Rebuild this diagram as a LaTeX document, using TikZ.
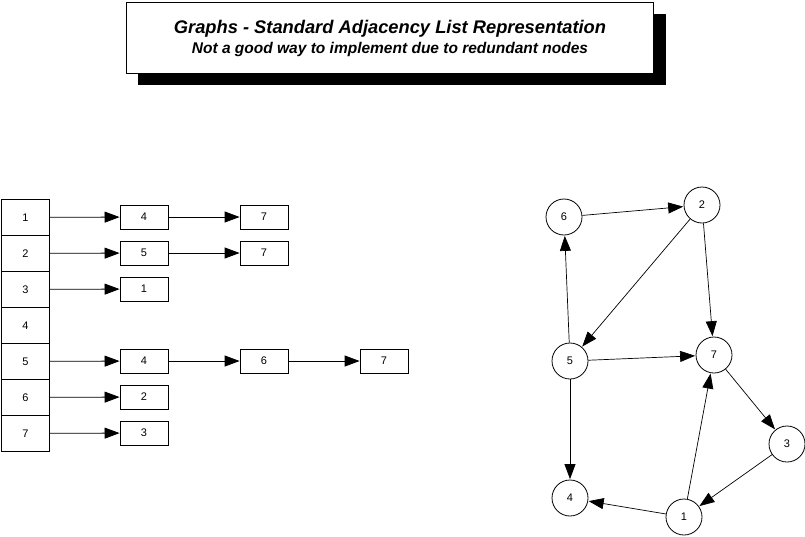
\documentclass[tikz,border=0pt]{standalone}
\usepackage{fontspec}
\setmainfont{Liberation Sans}
\usetikzlibrary{arrows.meta}
\begin{document}
\begin{tikzpicture}[x=1pt,y=-1pt,
  every node/.style={font=\fontsize{11}{13}\selectfont, inner sep=0pt},
  cell/.style={draw, line width=0.8pt, minimum width=48pt, minimum height=36pt, anchor=north west},
  item/.style={draw, line width=0.8pt, minimum width=48pt, minimum height=24pt},
  vert/.style={draw, circle, line width=0.8pt, minimum size=36pt},
  link/.style={line width=0.8pt, -{Triangle[length=15pt,width=11pt]}},
  edge/.style={line width=0.7pt, -{Triangle[length=15pt,width=11pt]}, shorten >=0.5pt}]
\useasboundingbox (0,0) rectangle (805,536);
% title
\fill (138,14) rectangle (666,85);
\node[draw, fill=white, line width=0.8pt, minimum width=527pt, minimum height=71pt, anchor=north west] (title) at (126,2) {};
\node[anchor=base] (t1) at (390,33.5) {\fontsize{18.3}{20}\selectfont\bfseries\itshape Graphs - Standard Adjacency List Representation};
\node[anchor=base] (t2) at (390,53.5) {\fontsize{15.5}{17}\selectfont\bfseries\itshape Not a good way to implement due to redundant nodes};
% array
\foreach \i in {1,...,7} {
  \node[cell] (r\i) at (1,{199+36*(\i-1)}) {\i};
}
% list items
\node[item] (a14) at (144,217) {4};
\node[item] (a17) at (264,217) {7};
\node[item] (a25) at (144,253) {5};
\node[item] (a27) at (264,253) {7};
\node[item] (a31) at (144,289) {1};
\node[item] (a54) at (144,361) {4};
\node[item] (a56) at (264,361) {6};
\node[item] (a57) at (384,361) {7};
\node[item] (a62) at (144,397) {2};
\node[item] (a73) at (144,433) {3};
\draw[link] (r1) -- (a14);
\draw[link] (a14) -- (a17);
\draw[link] (r2) -- (a25);
\draw[link] (a25) -- (a27);
\draw[link] (r3) -- (a31);
\draw[link] (r5) -- (a54);
\draw[link] (a54) -- (a56);
\draw[link] (a56) -- (a57);
\draw[link] (r6) -- (a62);
\draw[link] (r7) -- (a73);
% graph
\node[vert] (g6) at (564,217) {6};
\node[vert] (g2) at (702,205) {2};
\node[vert] (g5) at (570,361) {5};
\node[vert] (g7) at (714,355) {7};
\node[vert] (g3) at (787,444) {3};
\node[vert] (g4) at (570,498) {4};
\node[vert] (g1) at (684,517) {1};
\draw[edge] (g6) -- (g2);
\draw[edge] (g2) -- (g5);
\draw[edge] (g2) -- (g7);
\draw[edge] (g5) -- (g6);
\draw[edge] (g5) -- (g7);
\draw[edge] (g5) -- (g4);
\draw[edge] (g7) -- (g3);
\draw[edge] (g3) -- (g1);
\draw[edge] (g1) -- (g7);
\draw[edge] (g1) -- (g4);
\end{tikzpicture}
\end{document}
